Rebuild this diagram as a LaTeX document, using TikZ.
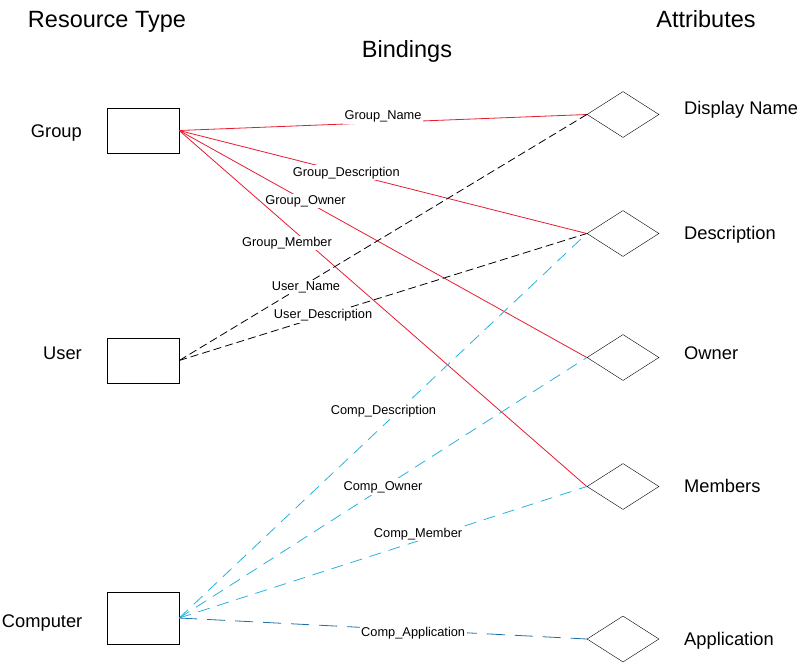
\documentclass[tikz,border=0pt]{standalone}
\usepackage{fontspec}
\setmainfont{Liberation Sans}
\usetikzlibrary{shapes.geometric}

\definecolor{grpred}{RGB}{232,28,48}
\definecolor{compcyan}{RGB}{38,178,222}
\definecolor{compblue}{RGB}{30,110,170}

\tikzset{
  restype/.style={draw, rectangle, minimum width=72pt, minimum height=45pt, inner sep=0pt},
  attrib/.style={draw, diamond, minimum width=72pt, minimum height=46pt, inner sep=0pt},
  headtext/.style={font=\fontsize{23.5}{28}\selectfont, inner sep=0pt},
  bigtext/.style={font=\fontsize{18.3}{22}\selectfont, inner sep=0pt},
  bindlbl/.style={font=\fontsize{12.8}{15}\selectfont, text=black, fill=white, inner sep=1.5pt},
  grpline/.style={grpred, line width=0.8pt},
  userline/.style={black, line width=0.8pt, dash pattern=on 8pt off 4pt},
  compline/.style={compcyan, line width=0.8pt, dash pattern=on 12pt off 8pt},
  appline/.style={compblue, line width=0.8pt, dash pattern=on 18pt off 10pt}
}

\begin{document}
\begin{tikzpicture}[x=1pt,y=-1pt]
\useasboundingbox (0,0) rectangle (801,662);
% headings
\node[headtext, anchor=base] (hres) at (107,27) {Resource Type};
\node[headtext, anchor=base] (hbind) at (407,57) {Bindings};
\node[headtext, anchor=base] (hattr) at (706,27) {Attributes};
% resource types
\node[restype] (group) at (143,130.5) {};
\node[restype] (user) at (143,360.5) {};
\node[restype, minimum height=52pt] (comp) at (143,618) {};
\node[bigtext, anchor=base east] (tgroup) at (82,137.5) {Group};
\node[bigtext, anchor=base east] (tuser) at (82,359.5) {User};
\node[bigtext, anchor=base east] (tcomp) at (82.5,627.5) {Computer};
% attributes
\node[attrib] (dname) at (623,114.5) {};
\node[attrib] (descr) at (623,233.5) {};
\node[attrib] (owner) at (623,357.5) {};
\node[attrib] (member) at (623,486.5) {};
\node[attrib] (appl) at (623,639) {};
\node[bigtext, anchor=base west] (tdname) at (684,114.5) {Display Name};
\node[bigtext, anchor=base west] (tdescr) at (684,239.5) {Description};
\node[bigtext, anchor=base west] (towner) at (684,359.5) {Owner};
\node[bigtext, anchor=base west] (tmember) at (684,492.5) {Members};
\node[bigtext, anchor=base west] (tappl) at (684,645) {Application};
% group bindings
\draw[grpline] (group.east) -- (dname.west) node[bindlbl, pos=0.5, yshift=6pt] {Group\_Name};
\draw[grpline] (group.east) -- (descr.west) node[bindlbl, pos=0.41] {Group\_Description};
\draw[grpline] (group.east) -- (owner.west) node[bindlbl, pos=0.31] {Group\_Owner};
\draw[grpline] (group.east) -- (member.west) node[bindlbl, pos=0.316, xshift=-21pt] {Group\_Member};
% user bindings
\draw[userline] (user.east) -- (dname.west) node[bindlbl, pos=0.311, yshift=-3pt] {User\_Name};
\draw[userline] (user.east) -- (descr.west) node[bindlbl, pos=0.353] {User\_Description};
% computer bindings
\draw[compline] (comp.east) -- (descr.west) node[bindlbl, pos=0.538, xshift=-15pt] {Comp\_Description};
\draw[compline] (comp.east) -- (owner.west) node[bindlbl, pos=0.5] {Comp\_Owner};
\draw[compline] (comp.east) -- (member.west) node[bindlbl, pos=0.586, yshift=7pt] {Comp\_Member};
\draw[appline] (comp.east) -- (appl.west) node[bindlbl, pos=0.574, yshift=-3pt] {Comp\_Application};
\end{tikzpicture}
\end{document}
